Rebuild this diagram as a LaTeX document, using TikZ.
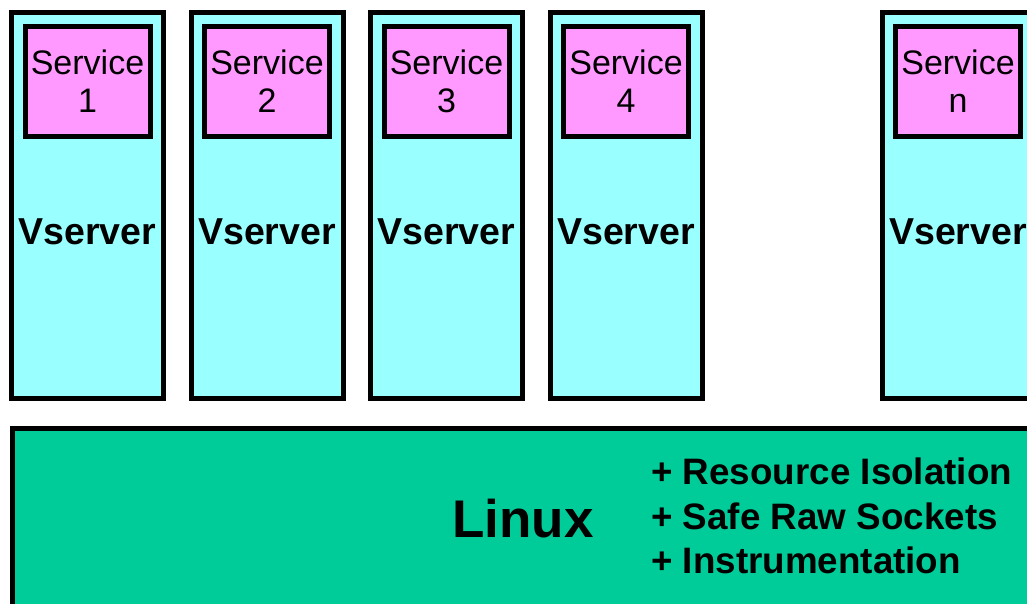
\documentclass[tikz,border=0pt]{standalone}
\usepackage{fontspec}
\setmainfont{Liberation Sans}
\definecolor{vcyan}{HTML}{99FFFF}
\definecolor{spink}{HTML}{FF99FF}
\definecolor{lgreen}{HTML}{00CC99}
\begin{document}
\begin{tikzpicture}[x=1pt,y=-1pt,
  vbox/.style={draw=black,fill=vcyan,line width=5pt,minimum width=152pt,minimum height=386pt,inner sep=0pt},
  sbox/.style={draw=black,fill=spink,line width=5pt,minimum width=125pt,minimum height=110pt,inner sep=0pt,align=center,font=\fontsize{34}{38}\selectfont},
  vlabel/.style={font=\fontsize{37.5}{40}\selectfont\bfseries,inner sep=0pt},
  lbox/.style={draw=black,fill=lgreen,line width=5pt,inner sep=0pt}]
\useasboundingbox (0,0) rectangle (1027,603);
\clip (0,0) rectangle (1027,603);
\fill[white] (0,0) rectangle (1027,603);
\foreach \cx/\n in {87.5/1,267/2,446.5/3,626/4,958/n}{
  \node[vbox] (v\n) at (\cx,205) {};
  \node[sbox] (s\n) at (\cx,81) {Service\\\n};
  \node[vlabel] (vt\n) at (\cx,232) {Vserver};
}
\node[lbox,minimum width=1040pt,minimum height=200pt] (linux) at (532,528) {};
\node[font=\fontsize{53}{56}\selectfont\bfseries,inner sep=0pt] (lt) at (523,519) {Linux};
\node[anchor=west,align=left,inner sep=0pt,font=\fontsize{36.8}{44.5}\selectfont\bfseries] (feat) at (651,516)
  {+ Resource Isolation\\+ Safe Raw Sockets\\+ Instrumentation};
\end{tikzpicture}
\end{document}
